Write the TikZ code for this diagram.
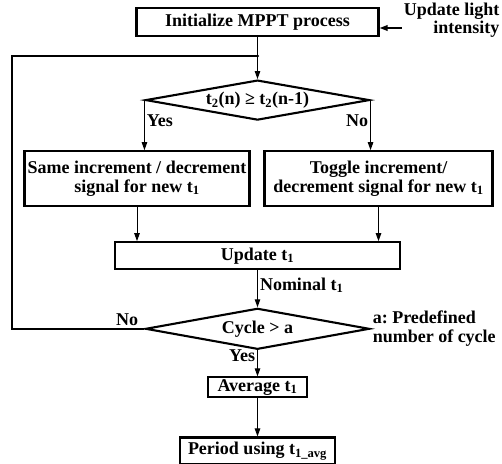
\documentclass[tikz,border=0pt]{standalone}
\usepackage{fontspec}
\setmainfont{Liberation Serif}
\usepackage{tikz}
\usetikzlibrary{shapes.geometric,arrows.meta,positioning,calc}
\frenchspacing

\begin{document}
\begin{tikzpicture}[node distance=30pt,
    procbox/.style={rectangle, draw=black, line width=2.1pt, align=center, inner sep=1pt, font=\bfseries\fontsize{18}{18.5}\selectfont},
    decision/.style={diamond, draw=black, line width=2.1pt, aspect=5.6, minimum width=224pt, minimum height=40pt, inner sep=0pt, font=\bfseries\fontsize{18}{18.5}\selectfont},
    note/.style={align=center, inner sep=2pt, font=\bfseries\fontsize{18}{18.5}\selectfont},
    flow/.style={draw, line width=1pt, -{Triangle[length=8pt,width=5.5pt]}},
    loopline/.style={draw, line width=1.7pt}]
    \useasboundingbox (0,0) rectangle (502pt,-463pt);

    \node [procbox, minimum width=242pt, minimum height=28pt] (init) at (257.5pt,-22pt) {Initialize MPPT process};
    \node [note, align=right, right=22pt of init, yshift=2pt] (light) {Update light\\intensity};
    \node [decision, below=42pt of init] (cmpt) {t\textsubscript{2}(n) ≥ t\textsubscript{2}(n-1)};
    \node [procbox, minimum width=225pt, minimum height=55pt, below=29pt of cmpt, xshift=-120.5pt] (same) {Same increment / decrement\\signal for new t\textsubscript{1}};
    \node [procbox, minimum width=228pt, minimum height=55pt, below=29pt of cmpt, xshift=121pt] (toggle) {Toggle increment/\\decrement signal for new t\textsubscript{1}};
    \node [procbox, minimum width=285pt, minimum height=27pt, below=120pt of cmpt] (update) {Update t\textsubscript{1}};
    \node [decision, minimum height=41pt, below=37pt of update] (cycle) {Cycle \textgreater{} a};
    \node [note, align=left, right=0pt of cycle] (predef) {a: Predefined\\number of cycle};
    \node [procbox, minimum width=99pt, minimum height=20pt, inner sep=0pt, below=26pt of cycle] (avg) {Average t\textsubscript{1}};
    \node [procbox, minimum width=155pt, minimum height=27pt, below=38pt of avg] (period) {Period using t\textsubscript{1\_avg}};

    \coordinate (join) at ($(init.south)!0.45!(cmpt.north)$);
    \coordinate (lftside) at (12pt,-55pt);

    \path [flow, line width=1.7pt] ([yshift=-8pt]light.west) -- ([yshift=-8pt]light.west -| init.east);
    \path [flow] (init) -- (cmpt);
    \fill (join) circle (1.6pt);
    \path [flow] (cmpt.west) -- node [note, right, pos=0.42] {Yes} (cmpt.west |- same.north);
    \path [flow] (cmpt.east) -- node [note, left, pos=0.42] {No} (cmpt.east |- toggle.north);
    \path [flow] (same) -- (same |- update.north);
    \path [flow] (toggle) -- (toggle |- update.north);
    \path [flow] (update) -- node [note, right, pos=0.4] {Nominal t\textsubscript{1}} (cycle);
    \path [loopline] (cycle.west) -- node [note, above, pos=0.13] {No} (cycle.west -| lftside) |- (join);
    \path [flow] (cycle) -- node [note, left, pos=0.22] {Yes} (avg);
    \path [flow] (avg) -- (period);
\end{tikzpicture}
\end{document}
